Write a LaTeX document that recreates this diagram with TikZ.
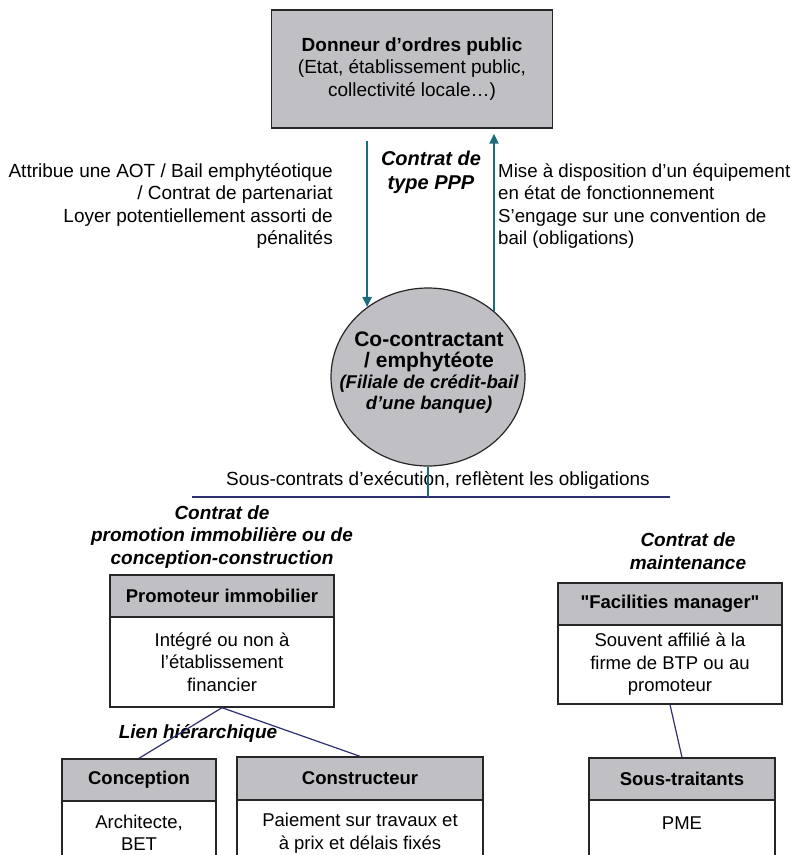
\documentclass[tikz,border=0pt]{standalone}
\usepackage{fontspec}
\setmainfont{Liberation Sans}[Ligatures=TeXOff]
\usetikzlibrary{arrows.meta,shapes.geometric}
\definecolor{boxgray}{RGB}{192,192,196}
\definecolor{tealline}{RGB}{28,108,124}
\definecolor{navyline}{RGB}{44,48,112}
\begin{document}
\begin{tikzpicture}[x=1pt,y=-1pt,
    every node/.style={font=\fontsize{19}{22.6}\selectfont, inner sep=0pt},
    hd/.style={shape=rectangle, draw=black!85, line width=1.4pt, fill=boxgray, font=\fontsize{18.5}{22.5}\selectfont\bfseries},
    bd/.style={shape=rectangle, draw=black!85, line width=1.4pt, fill=white, align=center, font=\fontsize{18.5}{22.5}\selectfont},
    lbl/.style={align=center, font=\fontsize{19}{22.8}\selectfont\bfseries\itshape},
    arr/.style={draw=tealline, line width=2pt, -{Triangle[length=10pt,width=9pt]}},
    lnk/.style={draw=navyline, line width=1.2pt}]

     \clip (0,0) rectangle (795,855);

     % donneur d'ordres
     \node[hd, font=\fontsize{19}{22.8}\selectfont, align=center, minimum width=281pt, minimum height=118pt] (D) at (412,69)
        {\textbf{Donneur d’ordres public}\\(Etat, établissement public,\\collectivité locale…)};

     % co-contractant
     \node[shape=ellipse, draw=black!85, line width=1.2pt, fill=boxgray, minimum width=194pt, minimum height=178pt] (C) at (428,377){};
     \node[align=center, font=\fontsize{21}{20.5}\selectfont\bfseries] (Cn1) at (429,352){Co-contractant\\/ emphytéote};
     \node[lbl, font=\fontsize{18.5}{21}\selectfont\bfseries\itshape] (Cn2) at (429,394){(Filiale de crédit-bail\\d’une banque)};

     \node[anchor=east, align=right] (An) at (333,206)
        {Attribue une AOT / Bail emphytéotique\\/ Contrat de partenariat\\Loyer potentiellement assorti de\\pénalités};
     \node[anchor=west, align=left, font=\fontsize{18.7}{22.6}\selectfont] (Mn) at (498,206)
        {Mise à disposition d’un équipement\\en état de fonctionnement\\S’engage sur une convention de\\bail (obligations)};
     \node[lbl, font=\fontsize{20}{24}\selectfont\bfseries\itshape] (Pn) at (431,172){Contrat de\\type PPP};

     \draw [arr, shorten <=12pt] (D.south -| C.131) to (C.131);
     \draw [arr, shorten >=5pt] (C.45) to (C.45 |- D.south);

     % sous-contrats
     \node (Sn) at (438,480){Sous-contrats d’exécution, reflètent les obligations};
     \coordinate (L) at (192,497);
     \coordinate (R) at (670,497);
     \draw [lnk] (L) to (R);
     \draw [draw=tealline, line width=2pt] (C.south) to (C.south |- L);

     % promoteur
     \node[lbl] (Prn) at (222,537){Contrat de\\promotion immobilière ou de\\conception-construction};
     \node[bd, minimum width=224pt, minimum height=90pt] (Pb) at (222,662)
        {Intégré ou non à\\l’établissement\\financier};
     \node[hd, minimum width=224pt, minimum height=42pt] (P) at (222,596){Promoteur immobilier};

     % facilities manager
     \node[lbl] (Mtn) at (688,551){Contrat de\\maintenance};
     \node[bd, minimum width=224pt, minimum height=79pt] (Fb) at (670,664.5)
        {Souvent affilié à la\\firme de BTP ou au\\promoteur};
     \node[hd, minimum width=224pt, minimum height=42pt] (F) at (670,604){"Facilities manager"};

     % niveau bas
     \node[bd, minimum width=154pt, minimum height=80pt] (Kb) at (139,840){};
     \node[hd, minimum width=154pt, minimum height=42pt] (K) at (139,780){Conception};
     \node[bd, draw=none, fill=none] (Kn) at (139,833){Architecte,\\BET};

     \node[bd, minimum width=246pt, minimum height=80pt] (Tb) at (360,840){};
     \node[hd, minimum width=246pt, minimum height=43pt] (T) at (360,778.5){Constructeur};
     \node[bd, draw=none, fill=none] (Tn) at (360,833){Paiement sur travaux et\\à prix et délais fixés};

     \node[bd, minimum width=186pt, minimum height=80pt] (Sb) at (682,840){};
     \node[hd, minimum width=186pt, minimum height=42pt] (S) at (682,779){Sous-traitants};
     \node[bd, draw=none, fill=none] (Sbn) at (682,823){PME};

     \node[lbl] (Hn) at (198,733){Lien hiérarchique};

     \draw [lnk] (Pb.south) to (K.north);
     \draw [lnk] (Pb.south) to (T.north);
     \draw [lnk] (Fb.south) to (S.north);

\end{tikzpicture}
\end{document}
